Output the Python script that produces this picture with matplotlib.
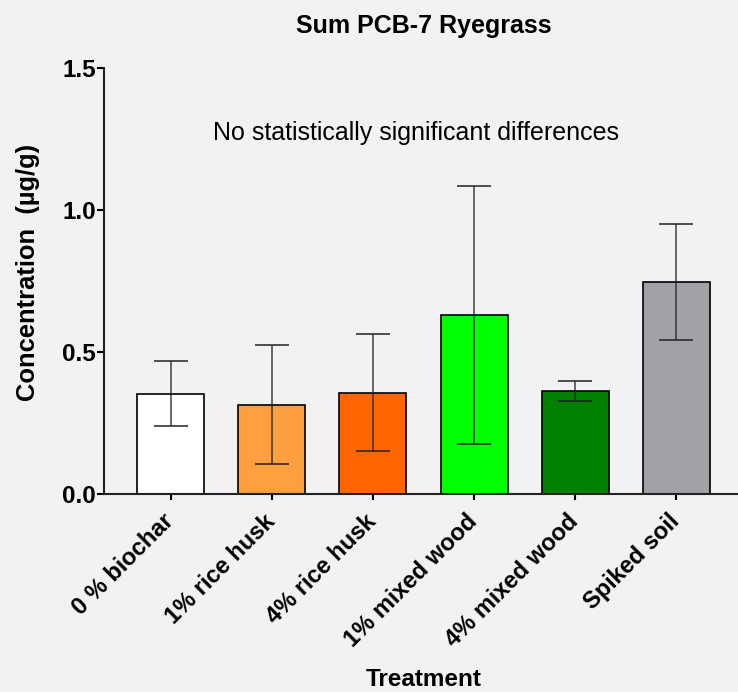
import matplotlib.pyplot as plt
import numpy as np

plt.rcParams['font.family'] = ['Liberation Sans', 'DejaVu Sans']

treatments = ['0 % biochar', '1% rice husk', '4% rice husk',
              '1% mixed wood', '4% mixed wood', 'Spiked soil']
means = [0.352, 0.313, 0.356, 0.628, 0.362, 0.746]
errors = [0.115, 0.210, 0.206, 0.454, 0.035, 0.204]
colors = ['#FFFFFF', '#FFA040', '#FF6600', '#00FF00', '#008000', '#A2A1A6']
y_ticks = [0.0, 0.5, 1.0, 1.5]

bg = '#F2F2F2'
fig = plt.figure(figsize=(7.38, 6.92), dpi=100, facecolor=bg)
ax = fig.add_axes([104 / 738, 1 - 493.7 / 692, 639 / 738, 426 / 692])
ax.set_facecolor(bg)

x = np.arange(len(treatments))
ax.bar(x, means, width=0.663, color=colors, edgecolor='black', linewidth=1.2, zorder=2)
ax.errorbar(x, means, yerr=errors, fmt='none', ecolor='#222222', elinewidth=1.1,
            capsize=12, capthick=1.3, alpha=0.85, zorder=3)

ax.set_xlim(-0.66, len(treatments) - 1 + 0.66)
ax.set_ylim(0, 1.5)
ax.set_yticks(y_ticks)
ax.set_yticklabels(['%.1f' % v for v in y_ticks])
ax.set_xticks(x)
ax.set_xticklabels(treatments, rotation=45, ha='right', va='center',
                   rotation_mode='anchor')

for s in ['top', 'right']:
    ax.spines[s].set_visible(False)
for s in ['left', 'bottom']:
    ax.spines[s].set_linewidth(1.5)
    ax.spines[s].set_color('#222222')

ax.tick_params(axis='y', length=5, width=1.5, pad=1, labelsize=17.5)
ax.tick_params(axis='x', length=4, width=1.5, pad=13.5, labelsize=17)
for lab in ax.get_xticklabels() + ax.get_yticklabels():
    lab.set_fontweight('bold')

ax.set_ylabel('Concentration  (µg/g)', fontsize=18.4, fontweight='bold')
ax.yaxis.set_label_coords(-0.1, 0.52)
ax.set_xlabel('Treatment', fontsize=17.5, fontweight='bold')
ax.xaxis.set_label_coords(0.5, -0.41)
ax.set_title('Sum PCB-7 Ryegrass', fontsize=18, fontweight='bold', pad=25)

ax.text(2.43, 1.27, 'No statistically significant differences', fontsize=18,
        ha='center', va='center')

fig.savefig('out.png', dpi=100, facecolor=bg)
